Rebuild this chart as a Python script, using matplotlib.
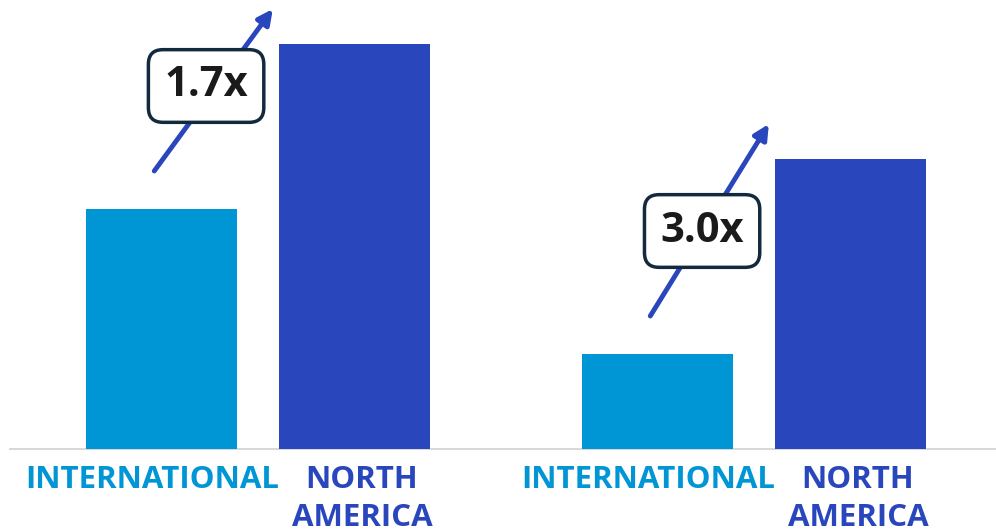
import matplotlib.pyplot as plt
import numpy as np

# data (arbitrary units)
groups = ['A', 'B']
intl_vals = [240, 95]
na_vals = [405, 290]
ratios = ['1.7x', '3.0x']
intl_label = 'INTERNATIONAL'
na_label = 'NORTH\nAMERICA'

INTL_BLUE = '#0096d6'
NA_BLUE = '#2a46bc'
BOX_EDGE = '#132a3e'

plt.rcParams['font.family'] = ['Open Sans', 'DejaVu Sans']

fig = plt.figure(figsize=(9.96, 5.29), dpi=100)
ax = fig.add_axes([0, 80 / 529, 1, 449 / 529])

x = np.arange(len(groups))
w = 0.304
off = 0.194
ax.bar(x - off, intl_vals, width=w, color=INTL_BLUE, zorder=2)
ax.bar(x + off, na_vals, width=w, color=NA_BLUE, zorder=2)

ax.set_xlim(-0.520, 1.488)
ax.set_ylim(0, 449)
ax.axis('off')
ax.axhline(0, xmin=0.01, xmax=1, color='#d9d9d9', lw=1.5, zorder=1, clip_on=False)

# nudge of the multiplier box along y, per group
box_dy = [4, -11]

for i in range(len(groups)):
    # category labels under the bars
    ax.text(x[i] - off - 0.02, -39, intl_label, color=INTL_BLUE, fontsize=22.5,
            fontweight='bold', ha='center', va='baseline')
    for k, line in enumerate(na_label.split('\n')):
        ax.text(x[i] + off + 0.016, -39 - 38 * k, line, color=NA_BLUE, fontsize=22.5,
                fontweight='bold', ha='center', va='baseline')

    # growth arrow + multiplier box
    x0, y0 = x[i] - off - 0.015, intl_vals[i] + 38
    x1, y1 = x[i] + 0.03, na_vals[i] + 35
    ax.annotate('', xy=(x1, y1), xytext=(x0, y0), annotation_clip=False,
                arrowprops=dict(arrowstyle='-|>', color=NA_BLUE, lw=3.5,
                                mutation_scale=22, shrinkA=0, shrinkB=0), zorder=3)
    ax.text((x0 + x1) / 2 - 0.015, (y0 + y1) / 2 + box_dy[i], ratios[i], fontsize=30,
            fontweight='bold', color='#1a1a1a', ha='center', va='center', zorder=4,
            bbox=dict(boxstyle='round,pad=0.38,rounding_size=0.35', facecolor='white',
                      edgecolor=BOX_EDGE, lw=2.5))

fig.savefig('out.png', dpi=100, facecolor='white')
